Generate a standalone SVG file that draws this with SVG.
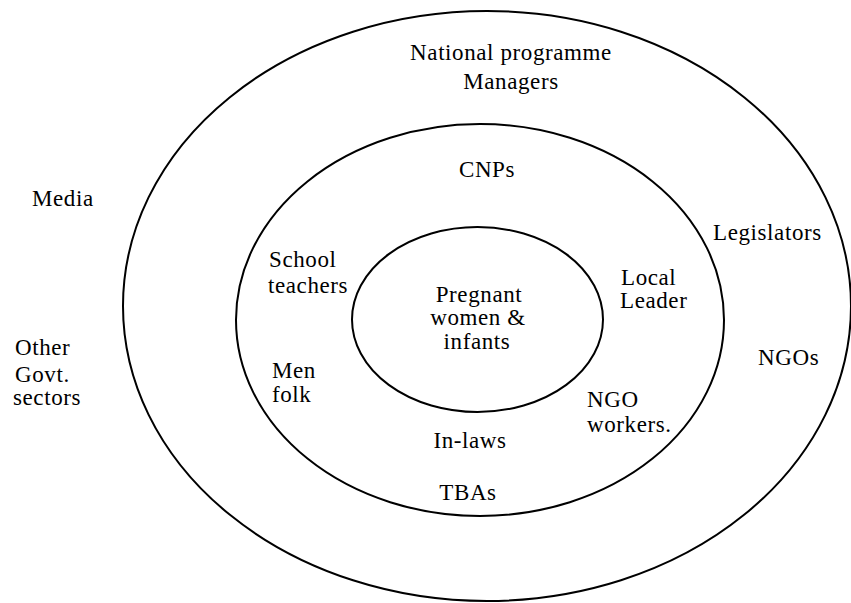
<svg xmlns="http://www.w3.org/2000/svg" width="851" height="603" viewBox="0 0 851 603">
<style>
.ring{fill:none;stroke:#000;stroke-width:2}
text{font-family:"Liberation Serif","Times New Roman",serif;font-size:23px;fill:#000;letter-spacing:0.6px}
.c{text-anchor:middle}
</style>
<rect width="851" height="603" fill="#fff"/>
<g id="rings">
<ellipse id="outer-ring" class="ring" cx="487" cy="306" rx="364" ry="295"/>
<ellipse id="middle-ring" class="ring" cx="480" cy="320" rx="244" ry="196"/>
<ellipse id="inner-ring" class="ring" cx="477.5" cy="319.5" rx="125.5" ry="92.5"/>
</g>
<g id="connectors"></g>
<g id="center"><text class="c" x="479" y="302">Pregnant</text><text class="c" x="478" y="325">women &amp;</text><text class="c" x="477" y="349">infants</text></g>
<g id="cnps"><text class="c" x="487" y="177">CNPs</text></g>
<g id="school-teachers"><text x="269" y="267">School</text><text x="268" y="293">teachers</text></g>
<g id="men-folk"><text x="272" y="378">Men</text><text x="272" y="402">folk</text></g>
<g id="local-leader"><text x="621" y="285">Local</text><text x="620" y="308">Leader</text></g>
<g id="ngo-workers"><text x="587" y="407">NGO</text><text x="587" y="432">workers.</text></g>
<g id="in-laws"><text class="c" x="470" y="448">In-laws</text></g>
<g id="tbas"><text class="c" x="468" y="500">TBAs</text></g>
<g id="national-managers"><text class="c" x="511" y="60">National programme</text><text class="c" x="511" y="89">Managers</text></g>
<g id="legislators"><text x="713" y="240">Legislators</text></g>
<g id="ngos"><text x="758" y="365">NGOs</text></g>
<g id="media"><text x="32" y="206">Media</text></g>
<g id="other-govt"><text x="15" y="355">Other</text><text x="15" y="382">Govt.</text><text x="13" y="405">sectors</text></g>
</svg>
